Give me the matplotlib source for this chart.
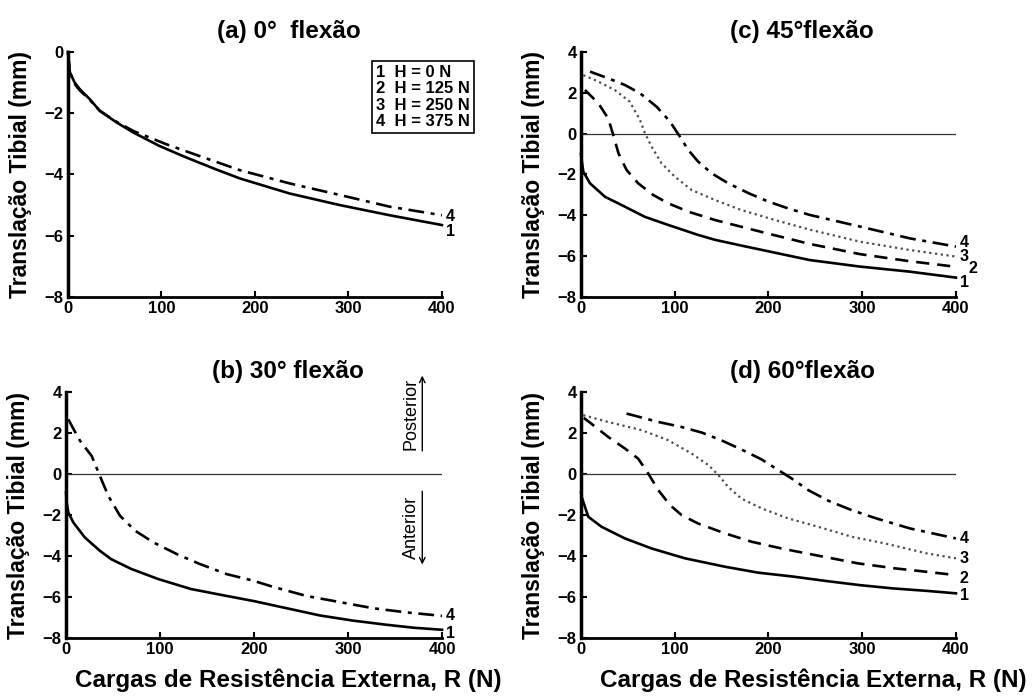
import numpy as np
import matplotlib.pyplot as plt

plt.rcParams['font.family'] = ['Liberation Sans', 'DejaVu Sans']

# ---------------------------
# data: R (N) vs tibial translation (mm)
# ---------------------------

# (a) 0 deg flexion
a1_x = [0, 2, 7, 12.5, 23, 34, 52, 70, 98, 127, 159, 184, 237, 291, 344, 400]
a1_y = [0, -0.66, -0.99, -1.21, -1.53, -1.92, -2.30, -2.63, -3.07, -3.45, -3.84, -4.13, -4.62, -5.00, -5.33, -5.65]
a4_x = [0, 2, 7, 12.5, 23, 34, 52, 70, 105, 141, 184, 237, 291, 344, 400]
a4_y = [0, -0.66, -1.04, -1.25, -1.55, -1.92, -2.28, -2.58, -3.01, -3.40, -3.86, -4.29, -4.67, -5.05, -5.33]

# (b) 30 deg flexion
b1_x = [0, 0.7, 2.5, 7.8, 20, 36, 48, 69.5, 98, 133, 169, 200, 235, 270, 305, 340, 370, 400]
b1_y = [-0.9, -1.38, -1.87, -2.36, -3.09, -3.74, -4.15, -4.63, -5.12, -5.61, -5.93, -6.20, -6.55, -6.90, -7.15, -7.35, -7.50, -7.60]
b4_x = [2.5, 8, 14.9, 27.3, 36, 45, 57.4, 73.5, 92.9, 117.7, 142.5, 170.9, 199, 220, 256, 291.5, 327, 362, 400]
b4_y = [2.68, 2.20, 1.63, 0.89, -0.08, -1.06, -2.03, -2.76, -3.33, -3.90, -4.39, -4.88, -5.20, -5.50, -5.95, -6.25, -6.55, -6.75, -6.92]

# (c) 45 deg flexion
c1_x = [0, 0.7, 2.5, 9.6, 25.6, 47, 68, 93, 125, 143, 173, 209, 244, 297.6, 351, 400]
c1_y = [-1.0, -1.29, -1.86, -2.43, -3.09, -3.58, -4.07, -4.47, -4.96, -5.20, -5.50, -5.85, -6.19, -6.51, -6.76, -7.05]
c2_x = [4.3, 18.5, 29, 34.5, 40, 48.7, 61, 77, 93, 114.5, 143, 171, 200, 244, 297.6, 351, 400]
c2_y = [2.14, 1.49, 0.75, -0.07, -0.96, -1.78, -2.43, -3.00, -3.41, -3.82, -4.23, -4.56, -4.90, -5.40, -5.90, -6.25, -6.52]
c3_x = [2.5, 18.5, 36, 52, 63, 68.3, 75.4, 86, 100, 118, 143, 171, 207, 244, 297.6, 351, 400]
c3_y = [2.87, 2.55, 2.14, 1.57, 0.67, 0.02, -0.64, -1.45, -2.10, -2.76, -3.25, -3.74, -4.23, -4.70, -5.29, -5.70, -6.02]
c4_x = [9.6, 29.2, 47, 63, 80.7, 95, 105.6, 114.5, 125, 139.4, 157, 179, 200, 221, 244, 297.6, 351, 400]
c4_y = [3.04, 2.71, 2.38, 1.98, 1.32, 0.59, -0.15, -0.80, -1.37, -1.94, -2.43, -2.92, -3.33, -3.66, -3.98, -4.55, -5.13, -5.53]

# (d) 60 deg flexion
d1_x = [0, 0.7, 7.8, 22, 47, 75.4, 111, 153.6, 189, 226, 262, 297.6, 333, 369, 400]
d1_y = [-0.9, -1.10, -2.08, -2.57, -3.14, -3.63, -4.11, -4.52, -4.81, -5.00, -5.22, -5.42, -5.58, -5.70, -5.82]
d2_x = [3, 13.2, 29, 47, 61, 71.8, 82.5, 95, 107.4, 125, 153.6, 182, 214, 249.6, 296, 335, 369, 400]
d2_y = [2.75, 2.39, 1.82, 1.25, 0.76, 0.03, -0.78, -1.51, -2.00, -2.41, -2.89, -3.30, -3.63, -3.95, -4.36, -4.60, -4.77, -4.93]
d3_x = [2.5, 29, 64.7, 93, 118, 136, 146.7, 157, 171, 192.7, 221, 253, 289, 324, 369, 400]
d3_y = [2.88, 2.55, 2.15, 1.66, 1.01, 0.44, -0.05, -0.62, -1.19, -1.67, -2.16, -2.57, -3.06, -3.38, -3.87, -4.11]
d4_x = [48.7, 82.5, 107, 129, 150, 171.4, 192.7, 210.5, 224.7, 242.5, 264, 289, 315, 351, 400]
d4_y = [2.96, 2.55, 2.31, 2.03, 1.65, 1.20, 0.72, 0.20, -0.21, -0.78, -1.30, -1.76, -2.16, -2.65, -3.14]

legend_lines = ['1  H = 0 N', '2  H = 125 N', '3  H = 250 N', '4  H = 375 N']
titles = ['(a) 0°  flexão', '(b) 30° flexão', '(c) 45°flexão', '(d) 60°flexão']
ylab = 'Translação Tibial (mm)'
xlab = 'Cargas de Resistência Externa, R (N)'

styles = {1: '-', 2: (0, (5, 3)), 3: (0, (1, 1.6)), 4: (0, (6, 2.5, 1.5, 2.5))}

fig = plt.figure(figsize=(10.33, 6.98), dpi=100)
ax_a = fig.add_axes([0.0658, 0.5745, 0.362, 0.351])
ax_c = fig.add_axes([0.5624, 0.5745, 0.363, 0.351])
ax_b = fig.add_axes([0.0639, 0.086, 0.364, 0.352])
ax_d = fig.add_axes([0.5624, 0.086, 0.363, 0.352])


def style_axes(ax, title, ylim, yticks):
    ax.set_xlim(0, 400)
    ax.set_ylim(*ylim)
    ax.set_xticks([0, 100, 200, 300, 400])
    ax.set_yticks(yticks)
    for s in ['top', 'right']:
        ax.spines[s].set_visible(False)
    ax.spines['left'].set_linewidth(2.5)
    ax.spines['bottom'].set_linewidth(2)
    ax.tick_params(direction='in', length=4, width=1.5, labelsize=12, pad=3)
    for lab in ax.get_xticklabels() + ax.get_yticklabels():
        lab.set_fontweight('bold')
    ax.set_title(title, fontsize=17.5, fontweight='bold', x=0.59, pad=10)
    ax.set_ylabel(ylab, fontsize=16.5, fontweight='bold')
    ax.yaxis.set_label_coords(-0.095, 0.5)


def curve(ax, x, y, n):
    if n == 3:
        ax.plot(x, y, color='0.3', ls=styles[n], lw=1.6, clip_on=False)
    else:
        ax.plot(x, y, color='black', ls=styles[n], lw=1.9, clip_on=False)


def end_label(ax, n, y, dx=4):
    ax.text(400 + dx, y, str(n), fontsize=11.5, fontweight='bold', va='center', ha='left')


# (a)
style_axes(ax_a, titles[0], (-8, 0), [0, -2, -4, -6, -8])
curve(ax_a, a1_x, a1_y, 1)
curve(ax_a, a4_x, a4_y, 4)
end_label(ax_a, 4, a4_y[-1] - 0.05)
end_label(ax_a, 1, a1_y[-1] - 0.22)
ax_a.text(0.823, 0.947, '\n'.join(legend_lines), transform=ax_a.transAxes, fontsize=12,
          fontweight='bold', va='top', ha='left', linespacing=1.12,
          bbox=dict(boxstyle='square,pad=0.25', fc='white', ec='black', lw=1.2))

# (b)
style_axes(ax_b, titles[1], (-8, 4), [4, 2, 0, -2, -4, -6, -8])
ax_b.axhline(0, color='0.2', lw=0.9)
curve(ax_b, b1_x, b1_y, 1)
curve(ax_b, b4_x, b4_y, 4)
end_label(ax_b, 4, b4_y[-1] + 0.04)
end_label(ax_b, 1, b1_y[-1] - 0.16)
ax_b.text(367, 2.95, 'Posterior', rotation=90, fontsize=13, ha='center', va='center', clip_on=False)
ax_b.annotate('', xy=(379, 4.95), xytext=(379, 1.0), annotation_clip=False,
              arrowprops=dict(arrowstyle='->', lw=1.0, color='black'))
ax_b.text(367, -2.6, 'Anterior', rotation=90, fontsize=13, ha='center', va='center', clip_on=False)
ax_b.annotate('', xy=(379, -4.55), xytext=(379, -0.7), annotation_clip=False,
              arrowprops=dict(arrowstyle='->', lw=1.0, color='black'))
ax_b.set_xlabel(xlab, fontsize=17.5, fontweight='bold')
ax_b.xaxis.set_label_coords(0.59, -0.125)

# (c)
style_axes(ax_c, titles[2], (-8, 4), [4, 2, 0, -2, -4, -6, -8])
ax_c.axhline(0, color='0.2', lw=0.9)
curve(ax_c, c1_x, c1_y, 1)
curve(ax_c, c2_x, c2_y, 2)
curve(ax_c, c3_x, c3_y, 3)
curve(ax_c, c4_x, c4_y, 4)
end_label(ax_c, 4, c4_y[-1] + 0.2)
end_label(ax_c, 3, c3_y[-1])
end_label(ax_c, 2, c2_y[-1] - 0.1, dx=13)
end_label(ax_c, 1, c1_y[-1] - 0.22)

# (d)
style_axes(ax_d, titles[3], (-8, 4), [4, 2, 0, -2, -4, -6, -8])
ax_d.axhline(0, color='0.2', lw=0.9)
curve(ax_d, d1_x, d1_y, 1)
curve(ax_d, d2_x, d2_y, 2)
curve(ax_d, d3_x, d3_y, 3)
curve(ax_d, d4_x, d4_y, 4)
end_label(ax_d, 4, d4_y[-1])
end_label(ax_d, 3, d3_y[-1])
end_label(ax_d, 2, d2_y[-1] - 0.15)
end_label(ax_d, 1, d1_y[-1] - 0.1)
ax_d.set_xlabel(xlab, fontsize=17.5, fontweight='bold')
ax_d.xaxis.set_label_coords(0.62, -0.125)

fig.savefig('out.png', dpi=100)
